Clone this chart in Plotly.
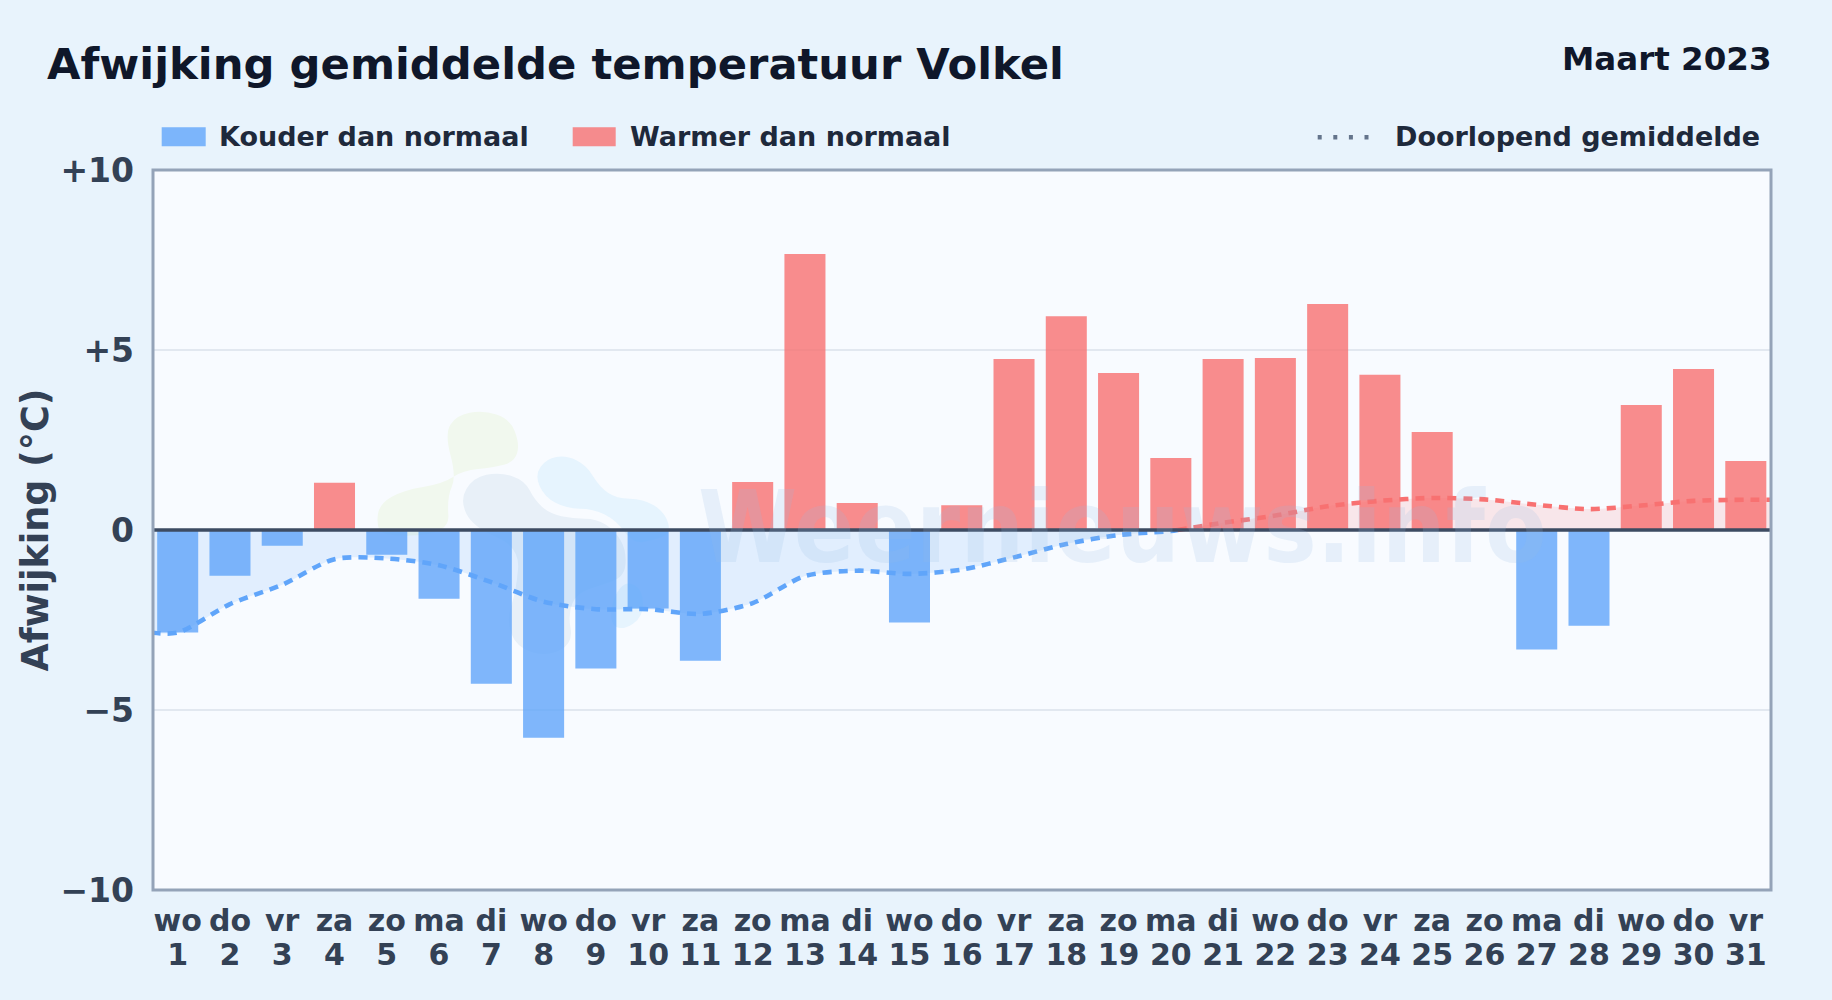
import plotly.graph_objects as go

# --- data ---
days = list(range(1, 32))
weekdays = ["wo","do","vr","za","zo","ma","di","wo","do","vr","za","zo","ma","di","wo","do",
            "vr","za","zo","ma","di","wo","do","vr","za","zo","ma","di","wo","do","vr"]
deviation = [-2.85,-1.27,-0.44,1.31,-0.69,-1.91,-4.27,-5.77,-3.85,-2.18,-3.63,1.33,7.67,0.75,-2.57,0.69,
             4.75,5.94,4.36,2.00,4.75,4.78,6.28,4.31,2.72,0.0,-3.32,-2.66,3.47,4.47,1.92]
running_avg = [-2.85,-2.06,-1.52,-0.81,-0.79,-0.98,-1.45,-1.99,-2.20,-2.20,-2.33,-2.03,-1.28,-1.13,-1.22,-1.10,
               -0.76,-0.39,-0.14,-0.03,0.20,0.40,0.66,0.81,0.89,0.85,0.70,0.58,0.68,0.81,0.84]
y_ticks = [-10, -5, 0, 5, 10]
y_tick_labels = ["\u221210", "\u22125", "0", "+5", "+10"]
COLD = "Kouder dan normaal"
WARM = "Warmer dan normaal"
AVG = "Doorlopend gemiddelde"

FONT = "DejaVu Sans"
W, H = 1832, 1000
L, R, T, B = 153.3, 1771.3, 169.7, 889.7
px = lambda x: (x - L) / (R - L)
py = lambda y: (B - y) / (B - T)

def blob(points, color):
    """Closed smooth outline; points are reference pixels of the faint logo."""
    pts = [(px(x), py(y)) for x, y in points]
    n = len(pts)
    mid = lambda a, b: ((a[0] + b[0]) / 2, (a[1] + b[1]) / 2)
    start = mid(pts[-1], pts[0])
    d = f"M {start[0]:.5f},{start[1]:.5f} "
    for i in range(n):
        m = mid(pts[i], pts[(i + 1) % n])
        d += f"Q {pts[i][0]:.5f},{pts[i][1]:.5f} {m[0]:.5f},{m[1]:.5f} "
    return dict(type="path", xref="paper", yref="paper", path=d + "Z", fillcolor=color,
                line=dict(width=0), layer="below")

def z(points):
    return [(360 + a / 3, 390 + b / 3) for a, b in points]

shapes = [
    blob(z([(255,130),(290,75),(370,60),(450,85),(480,160),(465,215),(400,232),(310,240),(250,280),
            (130,300),(60,340),(50,400),(70,440),(270,430),(262,320),(290,260)]), "#f1f8ee"),
    blob(z([(300,330),(340,262),(420,245),(495,270),(525,330),(570,370),(640,385),(710,385),(765,420),
            (800,480),(795,560),(720,585),(650,610),(625,670),(640,760),(560,800),(470,770),(440,690),
            (470,600),(480,470),(340,410)]), "#e8f0f8"),
    blob(z([(525,255),(560,205),(620,195),(680,225),(720,290),(770,325),(850,325),(915,365),(935,430),
            (880,450),(820,460),(770,390),(700,355),(620,355),(555,320)]), "#e6f4fe"),
    blob(z([(800,570),(850,600),(850,680),(790,720),(750,700),(760,620)]), "#e6f4fe"),
    # zero line above the bars
    dict(type="line", xref="paper", yref="y", x0=0, x1=1, y0=0, y1=0,
         line=dict(color="#3d4b62", width=3.6), layer="above"),
    # plot frame
    dict(type="rect", xref="paper", yref="paper", x0=0, x1=1, y0=0, y1=1,
         line=dict(color="#94a3b8", width=3), layer="above"),
    # legend swatches
    dict(type="rect", xref="paper", yref="paper", x0=px(162), x1=px(206), y0=py(146), y1=py(127),
         fillcolor="rgba(96,165,250,0.8)", line=dict(width=0)),
    dict(type="rect", xref="paper", yref="paper", x0=px(573), x1=px(616), y0=py(146), y1=py(127),
         fillcolor="rgba(248,113,113,0.8)", line=dict(width=0)),
    dict(type="line", xref="paper", yref="paper", x0=px(1318), x1=px(1376), y0=py(137), y1=py(137),
         line=dict(color="#64748b", width=4.6, dash="4px,11.6px")),
]

fig = go.Figure()

cross = 20.13
neg_x = [0.5] + days[:20] + [cross]
neg_y = [running_avg[0]] + running_avg[:20] + [0]
pos_x = [cross] + days[20:] + [31.5]
pos_y = [0] + running_avg[20:] + [running_avg[-1]]

fig.add_trace(go.Bar(x=[d for d, v in zip(days, deviation) if v < 0],
                     y=[v for v in deviation if v < 0], width=0.785, name=COLD,
                     marker=dict(color="rgba(96,165,250,0.8)", line=dict(width=0))))
fig.add_trace(go.Scatter(x=neg_x, y=neg_y, mode="lines", name=AVG, fill="tozeroy",
                         fillcolor="rgba(96,165,250,0.15)",
                         line=dict(color="#60a5fa", width=4.6, dash="9px,7px", shape="spline", smoothing=0.8)))
# warm side lives on the overlaid axis that carries the day numbers
fig.add_trace(go.Bar(x=[d for d, v in zip(days, deviation) if v > 0],
                     y=[v for v in deviation if v > 0], width=0.785, name=WARM, xaxis="x2",
                     marker=dict(color="rgba(248,113,113,0.8)", line=dict(width=0))))
fig.add_trace(go.Scatter(x=pos_x, y=pos_y, mode="lines", name=AVG, fill="tozeroy", xaxis="x2",
                         fillcolor="rgba(248,113,113,0.15)",
                         line=dict(color="#f87171", width=4.6, dash="9px,7px", shape="spline", smoothing=0.8)))

def note(text, x, y, size, color, xanchor="left", fam=FONT):
    return dict(text=f"<b>{text}</b>", x=px(x), y=py(y), xref="paper", yref="paper",
                xanchor=xanchor, yanchor="middle", showarrow=False,
                font=dict(family=fam, size=size, color=color))

RANGE = [0.5275, 31.482]
tick_font = dict(family=FONT, size=30, color="#334155", weight="bold")

fig.update_layout(
    width=W, height=H, showlegend=False, barmode="overlay",
    paper_bgcolor="#e8f3fc", plot_bgcolor="#f8fbff",
    margin=dict(l=L, r=W - R, t=T, b=H - B, autoexpand=False),
    font=dict(family=FONT, color="#334155"),
    title=dict(text="<b>Afwijking gemiddelde temperatuur Volkel</b>", x=47 / W, xanchor="left",
               y=1 - 64 / H, yanchor="middle", yref="container",
               font=dict(family=FONT, size=43.3, color="#0f172a")),
    shapes=shapes,
    annotations=[
        note("Maart 2023", 1774, 59, 32.5, "#0f172a", "right"),
        note(COLD, 217.5, 136, 27, "#1e293b"),
        note(WARM, 628.5, 136, 27, "#1e293b"),
        note(AVG, 1393, 136, 27, "#1e293b"),
        note("Weernieuws.info", 1123, 527, 100, "rgba(150,190,230,0.18)", "center",
             fam="DejaVu Sans Condensed"),
    ],
    xaxis=dict(range=RANGE, tickmode="array", tickvals=days, ticktext=weekdays, showgrid=False,
               zeroline=False, showline=False, ticks="", ticklabelstandoff=10,
               tickangle=0, tickfont=tick_font),
    xaxis2=dict(range=RANGE, tickmode="array", tickvals=days, ticktext=[str(d) for d in days],
                overlaying="x", side="bottom", anchor="y", showgrid=False, zeroline=False,
                showline=False, ticks="", ticklabelstandoff=44, tickangle=0, tickfont=tick_font),
    yaxis=dict(range=[-10, 10], tickmode="array", tickvals=y_ticks, ticktext=y_tick_labels,
               showgrid=True, gridcolor="#e2e8f0", gridwidth=2, zeroline=False,
               showline=False, ticks="", ticklabelstandoff=18, tickfont=dict(tick_font, size=33),
               title=dict(text="<b>Afwijking (°C)</b>", standoff=0,
                          font=dict(family=FONT, size=36.5, color="#334155"))),
)

fig.write_html("out.html", config=dict(displayModeBar=False),
               post_script="document.body.style.margin='0';document.body.style.background='#e8f3fc';")
